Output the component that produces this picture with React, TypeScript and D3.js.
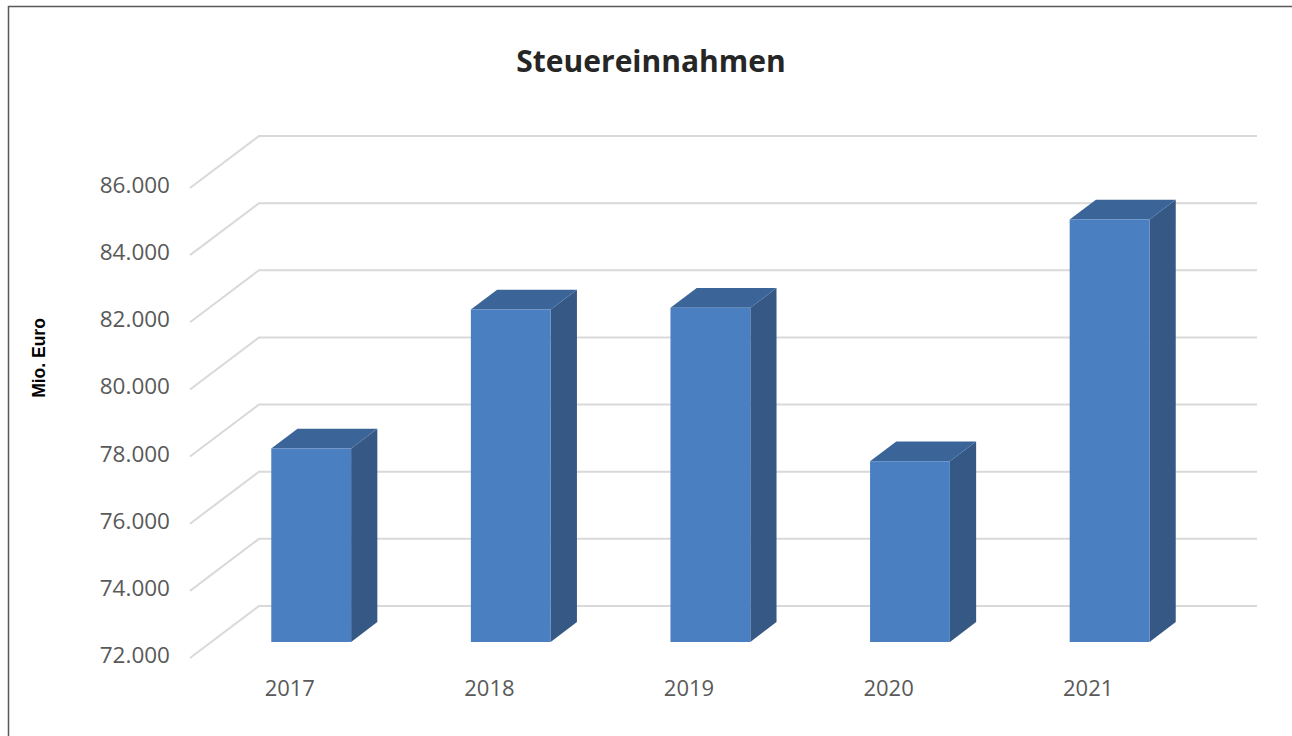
import * as d3 from 'd3';

const years = ['2017', '2018', '2019', '2020', '2021'];
const revenue = [77760, 81900, 81950, 77380, 84580];
const yTicks = [72000, 74000, 76000, 78000, 80000, 82000, 84000, 86000];

const W = 1292;
const H = 736;

// front-left corner of the floor and the depth offset to the back wall
const x0 = 190;
const floorY = 658;
const depthX = 69;
const depthY = 52;
const barFront = 0.31;
const barBack = 0.69;

const de = d3.formatLocale({ decimal: ',', thousands: '.', grouping: [3], currency: ['', ' €'] });
const fmt = de.format(',.0f');

const x = d3.scaleBand<string>().domain(years).range([0, 998]).paddingInner(0.6).paddingOuter(0.3);
const y = d3.scaleLinear().domain([72000, 86000]).range([0, 470]);

const pt = (px: number, d: number, h: number): [number, number] => [
  x0 + px + d * depthX,
  floorY - h - d * depthY,
];

const poly = (pts: [number, number][]) => pts.map((p) => p.join(',')).join(' ');

const font = '"Open Sans", "Segoe UI", sans-serif';

export default function App() {
  return (
    <svg
      width={W}
      height={H}
      style={{ position: 'absolute', left: 0, top: 0, background: '#fff' }}
    >
      <rect x={8.5} y={6.5} width={1400} height={900} fill="#fff" stroke="#595959" strokeWidth={1.5} />

      <text x={651} y={72} textAnchor="middle" fontFamily={font} fontWeight="bold" fontSize={30} fill="#262626">
        Steuereinnahmen
      </text>

      {/* grid on left wall and back wall */}
      {yTicks.map((t) => {
        const a = pt(0, 0, y(t));
        const b = pt(0, 1, y(t));
        const c = pt(998, 1, y(t));
        return (
          <polyline
            key={t}
            points={poly([a, b, c])}
            fill="none"
            stroke="#d9d9d9"
            strokeWidth={2}
          />
        );
      })}

      {yTicks.map((t) => (
        <text
          key={'l' + t}
          x={170}
          y={pt(0, 0, y(t))[1] - 1}
          textAnchor="end"
          dominantBaseline="middle"
          fontFamily={font}
          fontSize={22.5}
          fill="#595959"
        >
          {fmt(t)}
        </text>
      ))}

      {years.map((yr, i) => {
        const bx = x(yr)!;
        const bw = x.bandwidth();
        const h = y(revenue[i]);
        const front: [number, number][] = [
          pt(bx, barFront, 0), pt(bx + bw, barFront, 0), pt(bx + bw, barFront, h), pt(bx, barFront, h),
        ];
        const side: [number, number][] = [
          pt(bx + bw, barFront, 0), pt(bx + bw, barBack, 0), pt(bx + bw, barBack, h), pt(bx + bw, barFront, h),
        ];
        const top: [number, number][] = [
          pt(bx, barFront, h), pt(bx + bw, barFront, h), pt(bx + bw, barBack, h), pt(bx, barBack, h),
        ];
        return (
          <g key={yr}>
            <polygon points={poly(side)} fill="#355884" />
            <polygon points={poly(top)} fill="#3b6598" />
            <polygon points={poly(front)} fill="#4a7fc1" />
          </g>
        );
      })}

      {years.map((yr) => (
        <text
          key={'x' + yr}
          x={x0 + x(yr)! + x.bandwidth() / 2}
          y={690}
          textAnchor="middle"
          dominantBaseline="middle"
          fontFamily={font}
          fontSize={22}
          fill="#595959"
        >
          {yr}
        </text>
      ))}

      <text
        transform="translate(45,358) rotate(-90)"
        textAnchor="middle"
        fontFamily='"Liberation Sans", Arial, sans-serif'
        fontWeight="bold"
        fontSize={17.5}
        fill="#000"
      >
        Mio. Euro
      </text>
    </svg>
  );
}
